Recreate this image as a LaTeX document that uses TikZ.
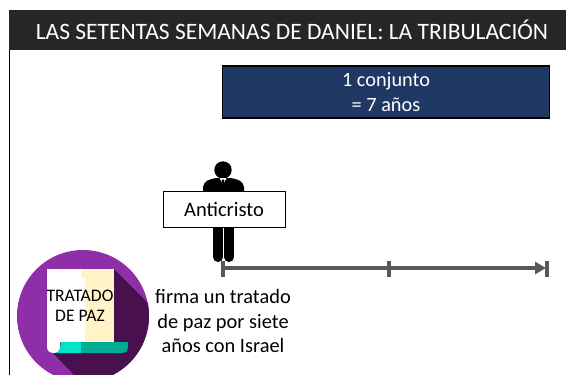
\documentclass[tikz,border=0pt]{standalone}
\usepackage{fontspec}
\setmainfont{Carlito}
\usetikzlibrary{arrows.meta}
\definecolor{barc}{HTML}{262626}
\definecolor{navy}{HTML}{1F3864}
\definecolor{linec}{HTML}{595959}
\definecolor{purp}{HTML}{8E2FA8}
\definecolor{purpd}{HTML}{48104F}
\definecolor{cream}{HTML}{FFF3C7}
\definecolor{teal1}{HTML}{00E5C8}
\definecolor{teal2}{HTML}{00AB94}
\tikzset{
  lbl/.style={inner sep=0pt, align=center},
  timeline/.style={draw=linec, line width=3.6pt},
  tick/.style={draw=linec, line width=3.2pt},
  man/.style={fill=black, draw=none}
}
\begin{document}
\begin{tikzpicture}[x=1pt,y=-1pt]
\useasboundingbox (0,0) rectangle (566,375);
\fill[white] (0,0) rectangle (566,375);
% frame
\draw[black, line width=1pt] (9,50) -- (9,375);
\fill[barc] (9,10) rectangle (566,50);
\node[lbl, text=white, font=\fontsize{23.5}{25}\selectfont] (title) at (292,30) {LAS SETENTAS SEMANAS DE DANIEL: LA TRIBULACIÓN};
% blue box
\node[draw=black, line width=1.3pt, fill=navy, text=white, minimum width=327pt, minimum height=52pt, inner sep=0pt, align=center, font=\fontsize{20.3}{24.5}\selectfont] (conj) at (386,92) {1 conjunto\\= 7 años};
% man
\fill[man] (223,170) circle (8.7);
\fill[man] (203,192) -- (203,187) .. controls (204,181) and (209,179) .. (217,178) -- (230,178) .. controls (238,179) and (243,181) .. (244,187) -- (244,192) -- cycle;
\fill[white] (219.5,178) -- (226.5,178) -- (223,185) -- cycle;
\fill[man] (221.8,179.5) -- (224.2,179.5) -- (224.6,187) -- (223,190) -- (221.4,187) -- cycle;
\draw[black, line width=10pt, line cap=round] (218,225) -- (218,257);
\draw[black, line width=10pt, line cap=round] (229,225) -- (229,257);
\node[draw=black, line width=0.8pt, fill=white, minimum width=122pt, minimum height=36pt, inner sep=0pt, font=\fontsize{20.5}{22}\selectfont] (anti) at (224,209) {Anticristo};
% timeline
\coordinate (t0) at (223,268);
\coordinate (t1) at (389,268);
\coordinate (t2) at (547,268);
\draw[timeline, -{Triangle[length=11pt,width=12pt]}, shorten >=1pt] (t0) -- (t2);
\draw[tick] (223,261) -- (223,277);
\draw[tick] (389,261) -- (389,277);
\draw[tick] (547,261) -- (547,277);
% caption
\node[lbl, font=\fontsize{20.4}{24.5}\selectfont] (firma) at (223,321) {firma un tratado\\de paz por siete\\años con Israel};
% seal
\begin{scope}
\clip (0,0) rectangle (566,375);
\fill[purp] (83,316) circle (66);
\begin{scope}
\clip (83,316) circle (66);
\fill[purpd] (114,269) -- (164,319) -- (164,400) -- (98,400) -- (53,353) -- cycle;
\end{scope}
\end{scope}
\fill[cream] (80,269) rectangle (114,342);
\fill[white] (47,269) -- (81,269) -- (81,278) -- (85,278) -- (85,342) -- (60,342) -- (60,347) .. controls (60,351) and (58,353) .. (54,353) .. controls (50,353) and (47,351) .. (47,347) -- cycle;
\fill[teal1] (54,353) .. controls (58,353) and (60,351) .. (61,342) -- (81,342) -- (81,353) -- cycle;
\fill[teal2] (81,342) -- (128,342) -- (128,348) .. controls (128,351) and (126,353) .. (123,353) -- (81,353) -- cycle;
\node[lbl, font=\fontsize{17.6}{20.5}\selectfont, text=black] (trat) at (80,306) {TRATADO\\DE PAZ};
\end{tikzpicture}
\end{document}
